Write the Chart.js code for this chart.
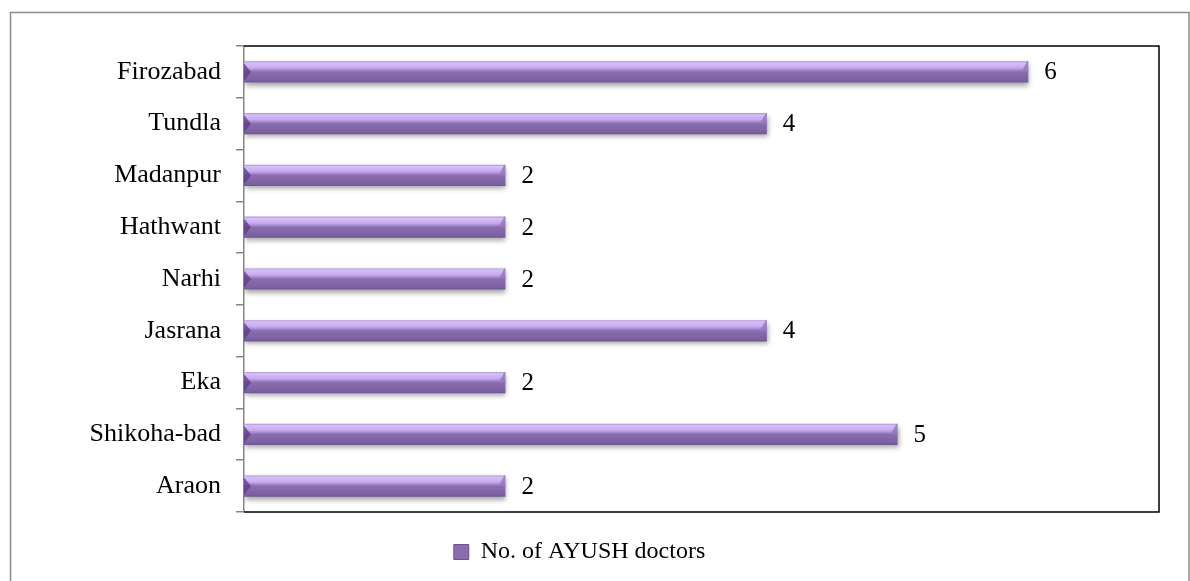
<!DOCTYPE html>
<html>
<head>
<meta charset="utf-8">
<script src="https://cdn.jsdelivr.net/npm/chart.js@4.4.1/dist/chart.umd.min.js"></script>
<style>
  html, body { margin: 0; padding: 0; background: #fff; }
  #wrap { width: 1190px; height: 581px; position: relative; }
</style>
</head>
<body>
<div id="wrap"><canvas id="myChart"></canvas></div>
<script>
const categories = ["Firozabad", "Tundla", "Madanpur", "Hathwant", "Narhi", "Jasrana", "Eka", "Shikoha-bad", "Araon"];
const doctors = [6, 4, 2, 2, 2, 4, 2, 5, 2];
const seriesName = "No. of AYUSH doctors";

const FONT = "'Liberation Serif', 'Times New Roman', serif";
const BAR_PCT = 0.41;

// vertical gradient per bar, so it looks like the bevelled office bars
function barFill(context) {
  const chart = context.chart;
  const yScale = chart.scales.y;
  if (!yScale || !chart.chartArea) return "#8064a2";
  const cy = yScale.getPixelForValue(context.dataIndex);
  const h = (yScale.height / categories.length) * BAR_PCT;
  const g = chart.ctx.createLinearGradient(0, cy - h / 2, 0, cy + h / 2);
  g.addColorStop(0, "#a98fcf");
  g.addColorStop(0.08, "#d6c0f7");
  g.addColorStop(0.3, "#c8aaf0");
  g.addColorStop(0.42, "#a487cc");
  g.addColorStop(0.5, "#8a6db0");
  g.addColorStop(0.9, "#7b60a0");
  g.addColorStop(1, "#6d548f");
  return g;
}

const frame = {
  id: "frame",
  beforeDraw(chart) {
    const c = chart.ctx;
    c.save();
    c.strokeStyle = "#8c8c8c";
    c.lineWidth = 1.5;
    c.beginPath();
    c.moveTo(10.5, 600);
    c.lineTo(10.5, 12.5);
    c.lineTo(1189, 12.5);
    c.lineTo(1189, 600);
    c.stroke();
    c.restore();
  },
  beforeDatasetsDraw(chart) {
    const c = chart.ctx;
    c.save();
    c.shadowColor = "rgba(0,0,0,0.35)";
    c.shadowBlur = 5;
    c.shadowOffsetY = 3;
    c.shadowOffsetX = 1;
  },
  afterDatasetsDraw(chart) {
    const c = chart.ctx;
    c.restore();
    // bevel ends + value labels
    const meta = chart.getDatasetMeta(0);
    c.save();
    meta.data.forEach((bar, i) => {
      const top = bar.y - bar.height / 2;
      const bot = bar.y + bar.height / 2;
      const left = bar.base;
      const right = bar.x;
      const b = 7;
      c.fillStyle = "rgba(90,60,130,0.75)";
      c.beginPath();
      c.moveTo(left, top + 2);
      c.lineTo(left + b, bar.y);
      c.lineTo(left, bot - 2);
      c.closePath();
      c.fill();
      c.fillStyle = "rgba(150,120,190,0.85)";
      c.beginPath();
      c.moveTo(right, top);
      c.lineTo(right, bar.y);
      c.lineTo(right - b, bar.y);
      c.lineTo(right - b + 6, top);
      c.closePath();
      c.fill();
      c.fillStyle = "#000";
      c.font = "25px " + FONT;
      c.textAlign = "left";
      c.textBaseline = "middle";
      c.fillText(String(doctors[i]), right + 16, bar.y + 1);
    });
    // plot border: black top, right, bottom
    const a = chart.chartArea;
    c.strokeStyle = "#000";
    c.lineWidth = 1.5;
    c.beginPath();
    c.moveTo(a.left, a.top);
    c.lineTo(a.right, a.top);
    c.lineTo(a.right, a.bottom);
    c.lineTo(a.left, a.bottom);
    c.stroke();
    c.restore();
  }
};

const ctx = document.getElementById("myChart").getContext("2d");

/* exported myChart */
const myChart = new Chart(ctx, {
  type: "bar",
  plugins: [frame],
  data: {
    labels: categories,
    datasets: [
      {
        label: seriesName,
        data: doctors,
        backgroundColor: barFill,
        borderWidth: 0,
        barPercentage: BAR_PCT,
        categoryPercentage: 1,
      },
    ],
  },
  options: {
    indexAxis: "y",
    responsive: true,
    maintainAspectRatio: false,
    animation: false,
    events: [],
    layout: {
      padding: { top: 46, right: 31, left: 0, bottom: 7 },
    },
    scales: {
      x: {
        display: true,
        min: 0,
        max: 7,
        grid: { display: false },
        border: { display: false },
        ticks: { display: false },
        afterFit(scale) {
          scale.height = 18;
        },
      },
      y: {
        afterFit(scale) {
          scale.width = 244;
        },
        grid: {
          drawOnChartArea: false,
          drawTicks: true,
          tickLength: 8,
          color: "#868686",
          lineWidth: 1.5,
        },
        border: { color: "#868686", width: 1.5 },
        ticks: {
          color: "#000",
          padding: 15,
          font: { family: FONT, size: 26 },
        },
      },
    },
    plugins: {
      title: { display: false },
      tooltip: { enabled: false },
      legend: {
        display: true,
        position: "bottom",
        labels: {
          color: "#000",
          boxWidth: 15,
          boxHeight: 15,
          padding: 10,
          font: { family: FONT, size: 24 },
          generateLabels() {
            return [{
              text: seriesName,
              fillStyle: "#8a6db0",
              strokeStyle: "#6d548f",
              lineWidth: 1,
              hidden: false,
              datasetIndex: 0,
            }];
          },
        },
      },
    },
  },
});
</script>
</body>
</html>
